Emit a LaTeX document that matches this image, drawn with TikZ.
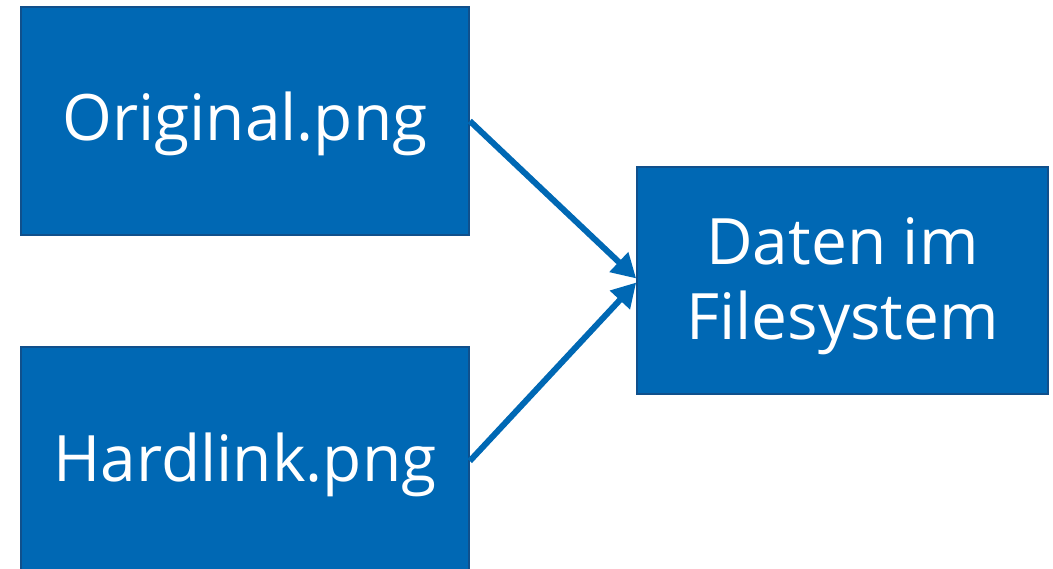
\documentclass[tikz,border=0pt]{standalone}
\usepackage{fontspec}
\setmainfont{Open Sans}
\usetikzlibrary{arrows.meta}
\definecolor{boxfill}{RGB}{0,104,180}
\definecolor{boxline}{RGB}{16,80,140}
\newcommand{\lowered}[2]{\raisebox{-#1}[0pt][0pt]{#2}}
\tikzset{
  bluebox/.style={draw=boxline, line width=1.6pt, fill=boxfill, text=white,
    inner sep=0pt, align=center, font=\fontsize{64}{75}\selectfont},
  linkarrow/.style={draw=boxfill, line width=6pt,
    -{Triangle[length=24pt,width=26pt]}}
}
\begin{document}
\begin{tikzpicture}[x=1pt,y=1pt]
\useasboundingbox (0,0) rectangle (1053,569);
\node[bluebox, minimum width=448pt, minimum height=228pt] (orig) at (245,448) {\lowered{20pt}{Original.png}};
\node[bluebox, minimum width=448pt, minimum height=228pt] (hard) at (245,108) {\lowered{20.5pt}{Hardlink.png}};
\node[bluebox, minimum width=411pt, minimum height=227pt] (daten) at (842.5,288.5) {\lowered{13pt}{\begin{tabular}{@{}c@{}}Daten im\\Filesystem\end{tabular}}};
\draw[linkarrow] (orig.east) -- ([yshift=2pt]daten.west);
\draw[linkarrow] (hard.east) -- ([yshift=-2pt]daten.west);
\end{tikzpicture}
\end{document}
